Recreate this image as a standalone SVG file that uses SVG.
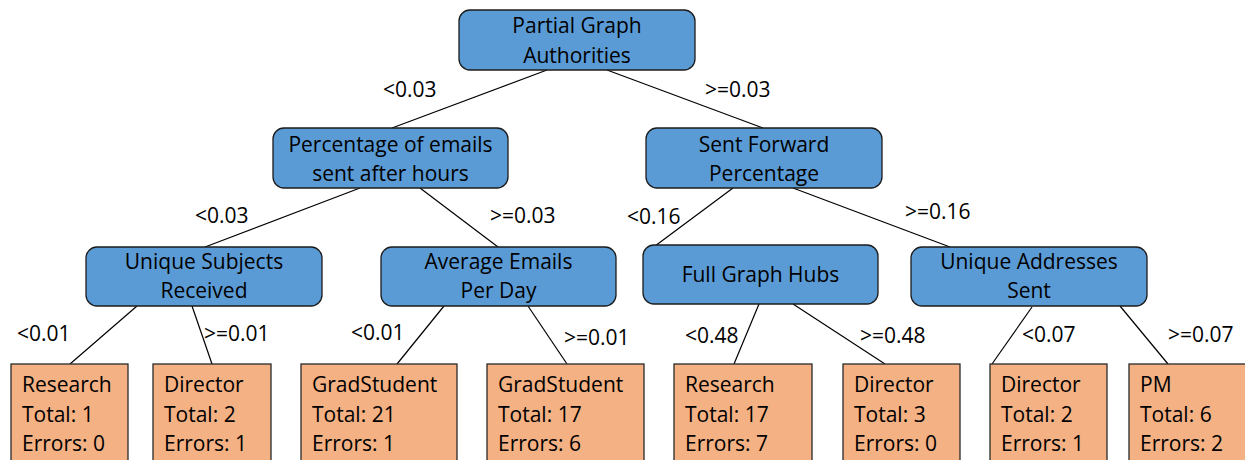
<svg xmlns="http://www.w3.org/2000/svg" width="1245" height="460" viewBox="0 0 1245 460">
<style>
text{font-family:"Open Sans","Liberation Sans",sans-serif;font-size:21px;fill:#000}
.dec rect{fill:#5B9BD5;stroke:#1c1c1c;stroke-width:1.3}
.leaf rect{fill:#F4B183;stroke:#2a2a2a;stroke-width:1.3}
.dec text{text-anchor:middle}
#edges line{stroke:#000;stroke-width:1.2}
</style>
<rect width="1245" height="460" fill="#fff"/>
<g id="edges">
<line x1="547" y1="70" x2="392" y2="128"/>
<line x1="607" y1="70" x2="763" y2="128"/>
<line x1="360" y1="188" x2="205" y2="247"/>
<line x1="420" y1="188" x2="498" y2="247"/>
<line x1="733" y1="188" x2="655" y2="246"/>
<line x1="793" y1="188" x2="950" y2="247"/>
<line x1="137" y1="306" x2="70" y2="364"/>
<line x1="192" y1="306" x2="212" y2="364"/>
<line x1="444" y1="306" x2="397" y2="364"/>
<line x1="528" y1="306" x2="567" y2="364"/>
<line x1="759" y1="304" x2="734" y2="364"/>
<line x1="793" y1="304" x2="885" y2="364"/>
<line x1="1032" y1="307" x2="992" y2="364"/>
<line x1="1120" y1="306" x2="1168" y2="364"/>
</g>
<g id="edge-labels">
<text x="383" y="97">&lt;0.03</text>
<text x="705" y="97">&gt;=0.03</text>
<text x="195" y="223">&lt;0.03</text>
<text x="490" y="223">&gt;=0.03</text>
<text x="627" y="224">&lt;0.16</text>
<text x="905" y="219">&gt;=0.16</text>
<text x="17" y="341">&lt;0.01</text>
<text x="204" y="341">&gt;=0.01</text>
<text x="351" y="340">&lt;0.01</text>
<text x="564" y="345">&gt;=0.01</text>
<text x="685" y="343">&lt;0.48</text>
<text x="860" y="343">&gt;=0.48</text>
<text x="1022" y="342">&lt;0.07</text>
<text x="1168" y="342">&gt;=0.07</text>
</g>
<g id="root" class="dec"><rect x="459" y="10" width="236" height="60" rx="11"/><text x="577" y="33">Partial Graph</text><text x="577" y="63">Authorities</text></g>
<g id="pct-after-hours" class="dec"><rect x="273" y="128" width="235" height="60" rx="11"/><text x="390.5" y="152">Percentage of emails</text><text x="390.5" y="181">sent after hours</text></g>
<g id="sent-forward" class="dec"><rect x="646" y="128" width="236" height="60" rx="11"/><text x="764" y="152">Sent Forward</text><text x="764" y="181">Percentage</text></g>
<g id="unique-subjects" class="dec"><rect x="86" y="247" width="236" height="59" rx="11"/><text x="204" y="269">Unique Subjects</text><text x="204" y="298">Received</text></g>
<g id="avg-emails" class="dec"><rect x="381" y="247" width="235" height="59" rx="11"/><text x="498.5" y="269">Average Emails</text><text x="498.5" y="298">Per Day</text></g>
<g id="full-graph-hubs" class="dec"><rect x="643" y="245" width="235" height="59" rx="11"/><text x="760.5" y="282">Full Graph Hubs</text></g>
<g id="unique-addresses" class="dec"><rect x="911" y="247" width="236" height="59" rx="11"/><text x="1029" y="269">Unique Addresses</text><text x="1029" y="298">Sent</text></g>
<g id="leaf1" class="leaf"><rect x="11" y="364" width="117" height="110"/><text x="22" y="392">Research</text><text x="22" y="422">Total: 1</text><text x="22" y="451">Errors: 0</text></g>
<g id="leaf2" class="leaf"><rect x="153" y="364" width="118" height="110"/><text x="164" y="392">Director</text><text x="164" y="422">Total: 2</text><text x="164" y="451">Errors: 1</text></g>
<g id="leaf3" class="leaf"><rect x="301" y="364" width="156" height="110"/><text x="312" y="392">GradStudent</text><text x="312" y="422">Total: 21</text><text x="312" y="451">Errors: 1</text></g>
<g id="leaf4" class="leaf"><rect x="487" y="364" width="157" height="110"/><text x="498" y="392">GradStudent</text><text x="498" y="422">Total: 17</text><text x="498" y="451">Errors: 6</text></g>
<g id="leaf5" class="leaf"><rect x="674" y="364" width="138" height="110"/><text x="685" y="392">Research</text><text x="685" y="422">Total: 17</text><text x="685" y="451">Errors: 7</text></g>
<g id="leaf6" class="leaf"><rect x="843" y="364" width="117" height="110"/><text x="854" y="392">Director</text><text x="854" y="422">Total: 3</text><text x="854" y="451">Errors: 0</text></g>
<g id="leaf7" class="leaf"><rect x="990" y="364" width="117" height="110"/><text x="1001" y="392">Director</text><text x="1001" y="422">Total: 2</text><text x="1001" y="451">Errors: 1</text></g>
<g id="leaf8" class="leaf"><rect x="1129" y="364" width="130" height="110"/><text x="1140" y="392">PM</text><text x="1140" y="422">Total: 6</text><text x="1140" y="451">Errors: 2</text></g>
</svg>
